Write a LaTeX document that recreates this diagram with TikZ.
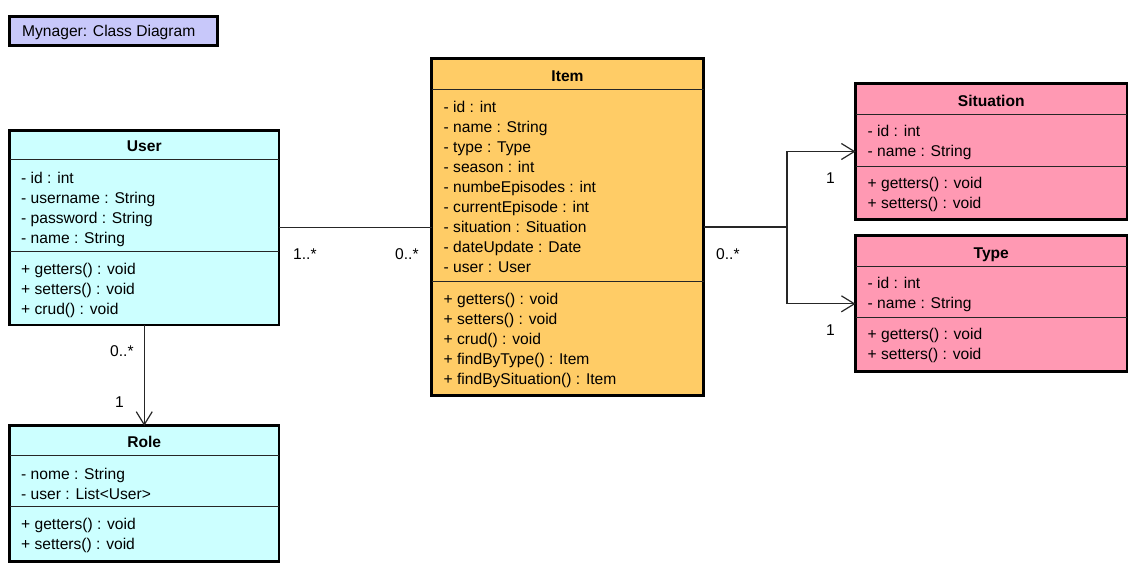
\documentclass[tikz,border=0pt]{standalone}
\usepackage{fontspec}
\setmainfont{Liberation Sans}
\usetikzlibrary{arrows.meta,calc}
\definecolor{userfill}{RGB}{204,255,255}
\definecolor{itemfill}{RGB}{255,204,102}
\definecolor{refill}{RGB}{255,153,179}
\definecolor{titlefill}{RGB}{200,200,250}

% one text line per member, 20pt apart
\newcommand\classmembers[4]{%
  \foreach \t [count=\i] in {#4} {%
    \pgfmathsetmacro\yy{#3+20*(\i-1)}%
    \node[member] (#1\i) at (#2,\yy) {\t};%
  }%
}

\begin{document}
\begin{tikzpicture}[x=1pt,y=-1pt,
  classbox/.style={draw=black,line width=2.8pt,rectangle,inner sep=0pt,outer sep=0pt},
  sepline/.style={draw=black!85,line width=1pt},
  member/.style={anchor=base west,inner sep=0pt,font=\fontsize{15.6}{20}\selectfont},
  header/.style={anchor=base,inner sep=0pt,font=\fontsize{15.6}{20}\selectfont\bfseries},
  mult/.style={anchor=base west,inner sep=0pt,font=\fontsize{15.6}{20}\selectfont},
  assoc/.style={draw=black!85,line width=1.2pt},
  nav/.style={assoc,-{Straight Barb[length=13pt,width=16pt,line width=1.2pt]}}
]
\useasboundingbox (0,0) rectangle (1139,573);

% diagram title
\node[classbox,fill=titlefill,minimum width=208.3pt,minimum height=29.3pt] (title) at (113.65,31.15) {};
\node[member] (title-text) at (22,36.7) {Mynager: Class Diagram};

% class boxes
\node[classbox,fill=userfill,minimum width=269.5pt,minimum height=194.5pt] (user) at (144.25,227.75) {};
\node[classbox,fill=itemfill,minimum width=272pt,minimum height=337pt] (item) at (567.5,227) {};
\node[classbox,fill=refill,minimum width=271.5pt,minimum height=135.4pt] (situation) at (991.25,151.5) {};
\node[classbox,fill=refill,minimum width=271.5pt,minimum height=136pt] (type) at (991.25,303.8) {};
\node[classbox,fill=userfill,minimum width=269.5pt,minimum height=136pt] (role) at (144.25,493.8) {};

% compartment separators
\draw[sepline] (9.5,159.3) -- (279,159.3);
\draw[sepline] (9.5,251.7) -- (279,251.7);
\draw[sepline] (431.5,89.3) -- (703.5,89.3);
\draw[sepline] (431.5,281.7) -- (703.5,281.7);
\draw[sepline] (855.5,114) -- (1127,114);
\draw[sepline] (855.5,166) -- (1127,166);
\draw[sepline] (855.5,266.7) -- (1127,266.7);
\draw[sepline] (855.5,317.7) -- (1127,317.7);
\draw[sepline] (9.5,455.7) -- (279,455.7);
\draw[sepline] (9.5,506) -- (279,506);

% class names
\node[header] (user-name) at (144.25,151.5) {User};
\node[header] (item-name) at (567.5,81) {Item};
\node[header] (situation-name) at (991.25,106) {Situation};
\node[header] (type-name) at (991.25,258.3) {Type};
\node[header] (role-name) at (144.25,447.7) {Role};

% attributes and operations
\classmembers{usera}{21}{183}{- id : int,- username : String,- password : String,- name : String}
\classmembers{userm}{21}{274}{+ getters() : void,+ setters() : void,+ crud() : void}
\classmembers{itema}{443.5}{112.5}{- id : int,- name : String,- type : Type,- season : int,- numbeEpisodes : int,- currentEpisode : int,- situation : Situation,- dateUpdate : Date,- user : User}
\classmembers{itemm}{443.5}{304}{+ getters() : void,+ setters() : void,+ crud() : void,+ findByType() : Item,+ findBySituation() : Item}
\classmembers{situationa}{867.5}{136.7}{- id : int,- name : String}
\classmembers{situationm}{867.5}{188}{+ getters() : void,+ setters() : void}
\classmembers{typea}{867.5}{288.5}{- id : int,- name : String}
\classmembers{typem}{867.5}{339.5}{+ getters() : void,+ setters() : void}
\classmembers{rolea}{21}{479.3}{- nome : String,- user : List<User>}
\classmembers{rolem}{21}{529}{+ getters() : void,+ setters() : void}

% associations
\draw[assoc] (user.east) -- (user.east -| item.west);
\coordinate (branch) at (787,227);
\draw[assoc] (item.east) -- (branch);
\draw[nav] (branch) |- (situation.west);
\draw[nav] (branch) |- (type.west);
\draw[nav] (user.south) -- (role.north);

% multiplicities
\node[mult] (m-user-item) at (293,259) {1..*};
\node[mult] (m-item-user) at (395,259) {0..*};
\node[mult] (m-item-out) at (716,259) {0..*};
\node[mult] (m-situation) at (826,183.3) {1};
\node[mult] (m-type) at (826,335) {1};
\node[mult] (m-user-role) at (110,356.7) {0..*};
\node[mult] (m-role) at (115,407.3) {1};
\end{tikzpicture}
\end{document}
